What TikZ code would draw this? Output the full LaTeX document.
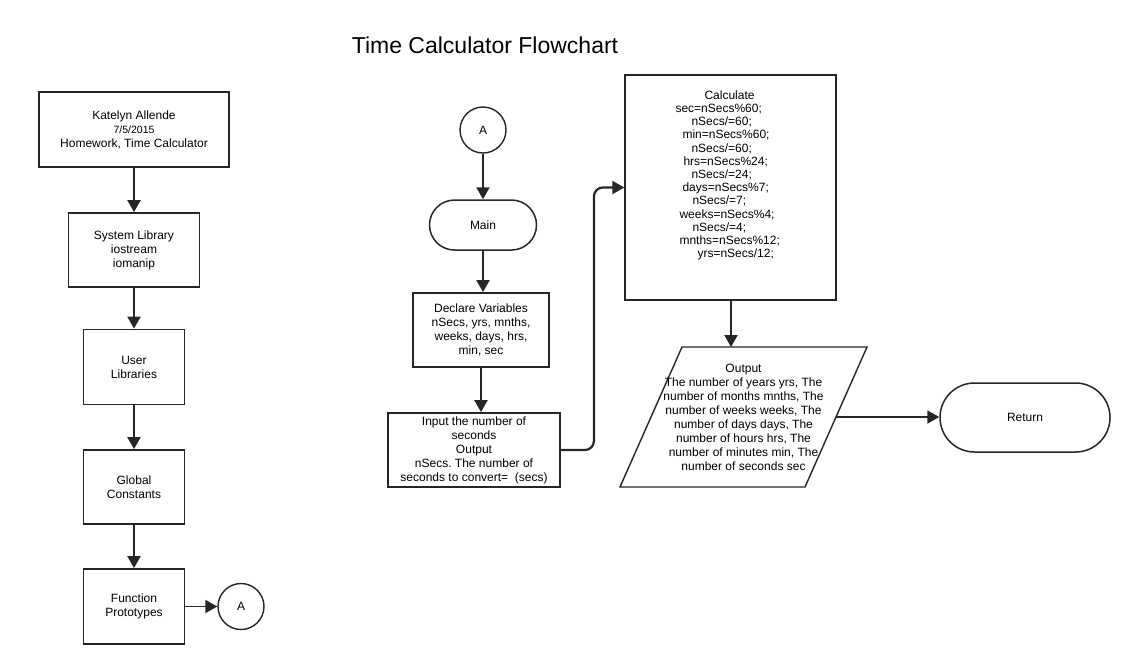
\documentclass[tikz,border=0pt]{standalone}
\usepackage{fontspec}
\setmainfont{Liberation Sans}
\usetikzlibrary{arrows.meta,calc}
\frenchspacing
\begin{document}
\begin{tikzpicture}[x=1pt,y=-1pt,
  txt/.style={font=\fontsize{12}{14}\selectfont},
  box/.style={draw=black!85, line width=1.8pt, fill=white, inner sep=2pt, align=center, txt},
  thinbox/.style={box, line width=1.4pt},
  term/.style={thinbox, line width=1.5pt},
  circ/.style={draw=black!85, circle, line width=1.4pt, minimum size=46pt, inner sep=0pt, txt},
  conn/.style={draw=black!85, line width=2.2pt, -{Triangle[width=13pt,length=12pt]}}
]
\useasboundingbox (0,0) rectangle (1134,665);
\fill[white] (0,0) rectangle (1134,665);

% title
\node[font=\fontsize{23}{26}\selectfont] (title) at (485,45) {Time Calculator Flowchart};

% left column
\node[box, minimum width=190pt, minimum height=75pt] (kate) at (134,129.5)
  {Katelyn Allende\\{\fontsize{10.5}{12}\selectfont 7/5/2015}\\Homework, Time Calculator};
\node[box, minimum width=131pt, minimum height=74pt] (sys) at (134,250)
  {System Library\\iostream\\iomanip};
\node[box, minimum width=101pt, minimum height=75pt] (user) at (134,367)
  {User\\Libraries};
\node[box, minimum width=101pt, minimum height=74pt] (glob) at (134,487)
  {Global\\Constants};
\node[box, minimum width=101pt, minimum height=75pt] (func) at (134,606.5)
  {Function\\Prototypes};
\node[circ] (a1) at (241,606.5) {A};

\draw[conn] (kate.south) -- (kate.south |- sys.north);
\draw[conn] (sys.south) -- (sys.south |- user.north);
\draw[conn] (user.south) -- (user.south |- glob.north);
\draw[conn] (glob.south) -- (glob.south |- func.north);
\draw[conn, line width=1.9pt] (func.east) -- (a1.west);

% middle column
\node[circ] (a2) at (483,130) {A};
\node[term, minimum width=107pt, minimum height=50pt, rounded corners=25pt] (main) at (483,225) {Main};
\node[box, minimum width=136pt, minimum height=74pt] (decl) at (481,330)
  {Declare Variables\\nSecs, yrs, mnths,\\weeks, days, hrs,\\min, sec};
\node[box, minimum width=172pt, minimum height=74pt] (inp) at (474,450)
  {Input the number of\\seconds\\Output\\nSecs. The number of\\seconds to convert=\ \ (secs)};

\draw[conn] (a2.south) -- (a2.south |- main.north);
\draw[conn] (main.south) -- (main.south |- decl.north);
\draw[conn] (decl.south) -- (decl.south |- inp.north);

% calculate box
\node[thinbox, minimum width=211pt, minimum height=225pt] (calc) at (730.5,187.5) {};
\node[anchor=north west, align=left, inner sep=0pt, font=\fontsize{12}{13.2}\selectfont] (calctext)
  at ($(calc.north west)+(51,16)$)
  {\hspace*{29pt}Calculate\\
   sec=nSecs\%60;\\
   \hspace*{16pt}nSecs/=60;\\
   \hspace*{7pt}min=nSecs\%60;\\
   \hspace*{16pt}nSecs/=60;\\
   \hspace*{8pt}hrs=nSecs\%24;\\
   \hspace*{16pt}nSecs/=24;\\
   \hspace*{7pt}days=nSecs\%7;\\
   \hspace*{17pt}nSecs/=7;\\
   \hspace*{4pt}weeks=nSecs\%4;\\
   \hspace*{17pt}nSecs/=4;\\
   \hspace*{4pt}mnths=nSecs\%12;\\
   \hspace*{22pt}yrs=nSecs/12;};

\draw[conn, rounded corners=9pt] (inp.east) -- ++(33,0) |- (calc.west);

% output parallelogram
\coordinate (ptl) at (682,347);
\coordinate (ptr) at (867,347);
\coordinate (pbr) at (805,487);
\coordinate (pbl) at (620,487);
\fill[white, draw=black!85, line width=1.4pt, line join=miter] (ptl) -- (ptr) -- (pbr) -- (pbl) -- cycle;
\node[align=center, inner sep=0pt, txt] (out) at (743.5,417.5)
  {Output\\The number of years yrs, The\\number of months mnths, The\\number of weeks weeks, The\\number of days days, The\\number of hours hrs, The\\number of minutes min, The\\number of seconds sec};
\coordinate (outtop) at (731,347);
\coordinate (outright) at (836,417);

\draw[conn] (calc.south -| outtop) -- (outtop);

% return
\node[term, minimum width=170pt, minimum height=69pt, rounded corners=34.5pt] (ret) at (1025,417.5) {Return};
\draw[conn, line width=1.9pt] (outright) -- (outright -| ret.west);
\end{tikzpicture}
\end{document}
